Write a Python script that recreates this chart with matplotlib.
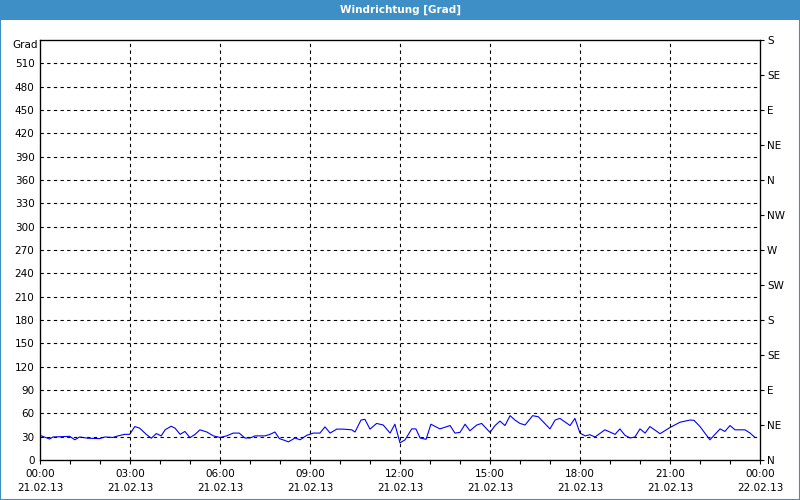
import matplotlib
matplotlib.use("Agg")
from matplotlib import pyplot as plt
from matplotlib.patches import Rectangle
import numpy as np

# Stunden seit 21.02.13 00:00 und Windrichtung in Grad
hours = [0.0, 0.32, 0.43, 0.99, 1.16, 1.32, 1.6, 1.99, 2.16, 2.43, 2.6, 2.82, 2.99,
         3.16, 3.32, 3.54, 3.71, 3.88, 4.04, 4.17, 4.37, 4.5, 4.67, 4.83, 5.0,
         5.17, 5.33, 5.56, 5.78, 6.0, 6.22, 6.44, 6.64, 6.83, 7.0, 7.17, 7.5,
         7.67, 7.83, 7.98, 8.17, 8.28, 8.5, 8.67, 8.89, 9.11, 9.33, 9.5, 9.67,
         9.89, 10.11, 10.39, 10.5, 10.7, 10.83, 11.0, 11.22, 11.44, 11.67, 11.83,
         12.0, 12.17, 12.39, 12.53, 12.67, 12.87, 13.03, 13.33, 13.67, 13.83, 14.0,
         14.17, 14.33, 14.56, 14.72, 15.0, 15.17, 15.33, 15.5, 15.67, 15.83, 16.0,
         16.17, 16.42, 16.61, 17.0, 17.17, 17.33, 17.67, 17.83, 18.0, 18.17, 18.33,
         18.5, 18.83, 19.17, 19.33, 19.5, 19.67, 19.83, 20.0, 20.17, 20.33, 20.67,
         21.0, 21.33, 21.67, 21.8, 22.0, 22.33, 22.67, 22.83, 23.0, 23.17, 23.5,
         23.67, 23.83]
grad = [31.7, 27, 29.6, 30.4, 26, 29.6, 28, 27.5, 29.6, 29, 31, 33, 33,
        43, 41, 33, 28, 34, 31, 38.8, 43.4, 41, 33, 36.7, 28.7,
        33, 38.8, 36, 31, 29, 31, 34.6, 34.6, 28.3, 28.3, 31, 31,
        33, 36, 27.5, 25, 23.3, 28.3, 26, 31.7, 34.6, 34.6, 42.6, 34.6,
        39.7, 39.7, 38.8, 36, 51.4, 52.3, 39.7, 47, 45, 34.6, 46,
        22, 26, 40, 40, 28.3, 26.6, 46, 40, 44.3, 34.6, 35.5,
        46, 37.6, 45, 47, 35.5, 44.3, 50, 44.3, 57, 51.4, 47,
        45, 57, 55.6, 40, 51.4, 53.5, 44.3, 53.5, 34.6, 31, 32.5,
        29.6, 38.8, 33, 40, 31.7, 28.3, 29.6, 40, 34.6, 43, 33.8,
        41.8, 48.5, 51.4, 51, 43, 26, 40, 36.7, 44.3, 38.8, 38.8,
        34.6, 29]

y_ticks = list(range(0, 511, 30))
x_labels = ["00:00\n21.02.13", "03:00\n21.02.13", "06:00\n21.02.13", "09:00\n21.02.13",
            "12:00\n21.02.13", "15:00\n21.02.13", "18:00\n21.02.13", "21:00\n21.02.13",
            "00:00\n22.02.13"]
compass = ["N", "NE", "E", "SE", "S", "SW", "W", "NW", "N", "NE", "E", "SE", "S"]

plt.rcParams['font.family'] = ['DejaVu Sans']
fs = 7.5
blue_bar = "#3d8fc6"

fig = plt.figure(figsize=(8, 5), dpi=100)
fig.patch.set_facecolor("white")

# Titelleiste und Rahmen
fig.patches.append(Rectangle((0, 0.96), 1, 0.04, transform=fig.transFigure,
                             facecolor=blue_bar, edgecolor="none"))
fig.patches.append(Rectangle((0.0006, 0.001), 0.9988, 0.998, transform=fig.transFigure,
                             facecolor="none", edgecolor=blue_bar, linewidth=1.5))
fig.text(0.5, 0.98, "Windrichtung [Grad]", color="white", fontsize=fs,
         fontweight="bold", ha="center", va="center")

ax = fig.add_axes([0.05, 0.08, 0.90, 0.84])
ax.plot(hours, grad, color="#0000ff", linewidth=0.8)

ax.set_xlim(0, 24)
ax.set_ylim(0, 540)
ax.set_xticks(np.arange(0, 25, 3))
ax.set_xticklabels(x_labels, fontsize=fs, linespacing=1.55)
ax.set_xticks(np.arange(0, 25, 1), minor=True)
ax.set_yticks(y_ticks)
ax.set_yticklabels([str(v) for v in y_ticks], fontsize=fs)
ax.tick_params(axis="y", length=0, pad=4)
ax.tick_params(axis="x", which="both", length=3, width=0.8, direction="out", pad=3.5)

for v in y_ticks[1:]:
    ax.axhline(v, color="black", linewidth=0.8, linestyle=(0, (3, 3)))
for h in range(3, 24, 3):
    ax.axvline(h, color="black", linewidth=0.8, linestyle=(0, (3, 3)))

for s in ax.spines.values():
    s.set_linewidth(0.9)
    s.set_color("black")

ax2 = ax.twinx()
ax2.set_ylim(0, 540)
ax2.set_yticks(np.arange(0, 541, 45))
ax2.set_yticklabels(compass, fontsize=fs)
ax2.tick_params(axis="y", length=3, width=0.8, direction="out", pad=2)

fig.text(0.047, 0.91, "Grad", fontsize=fs, ha="right", va="center")

fig.savefig("out.png", dpi=100)
